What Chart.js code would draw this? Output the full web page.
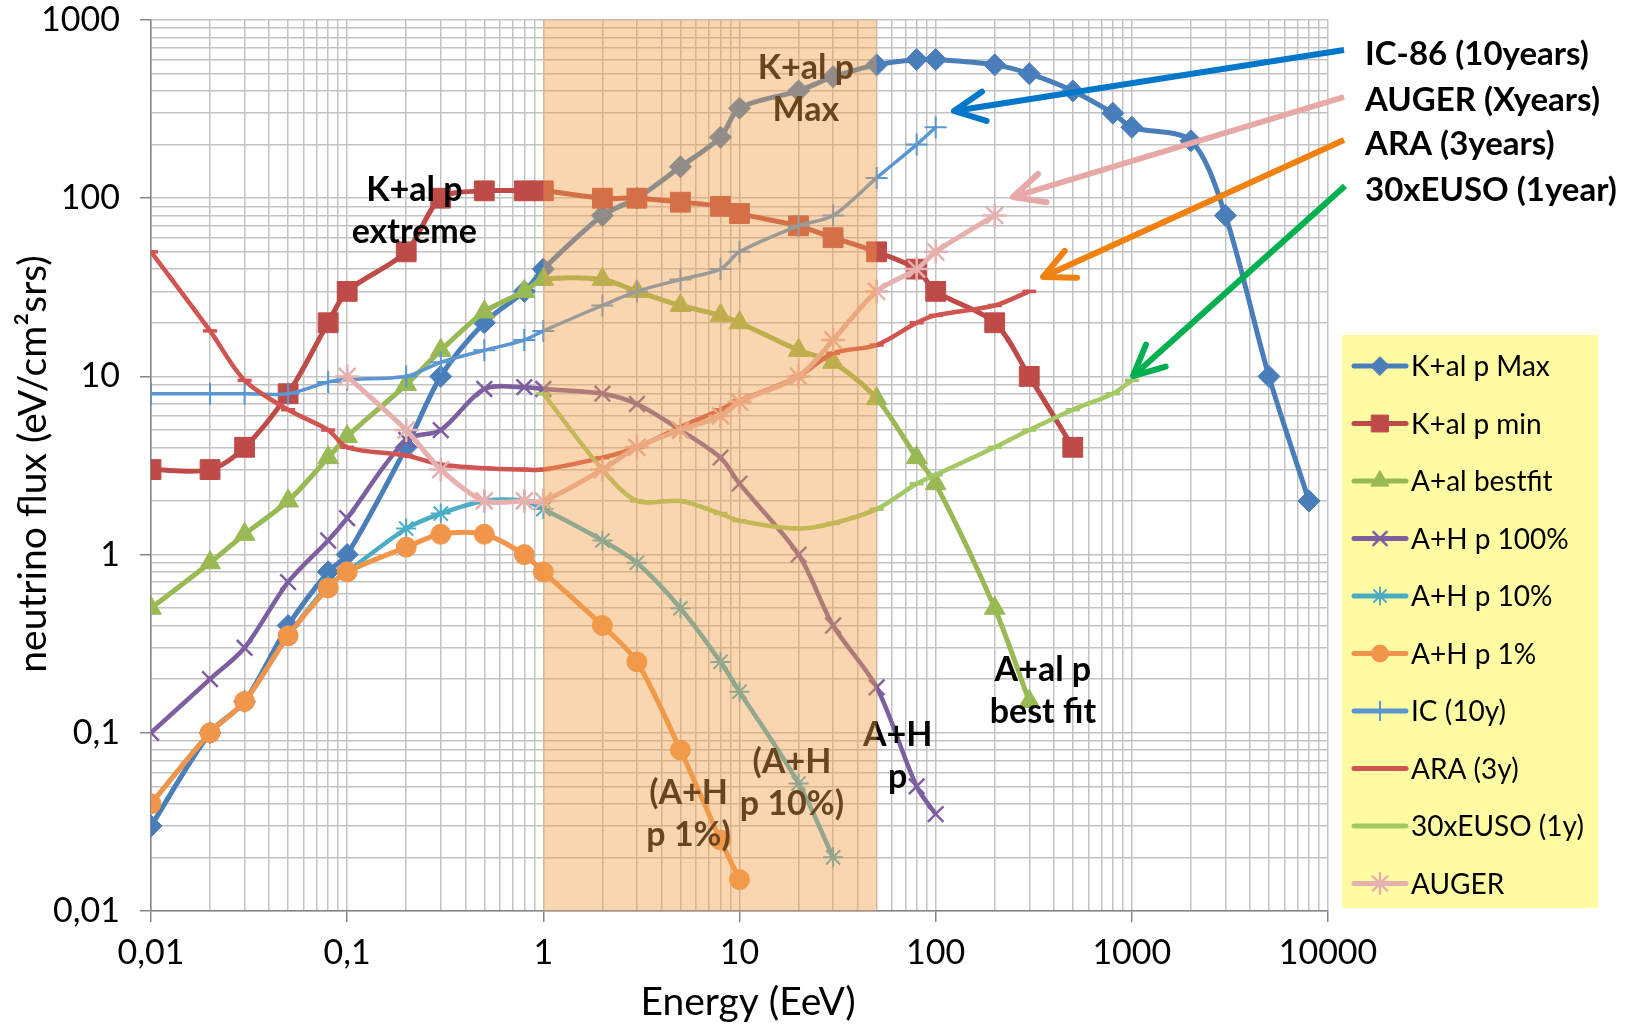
<!DOCTYPE html>
<html>
<head>
<meta charset="utf-8">
<script src="https://cdn.jsdelivr.net/npm/chart.js@4.4.1/dist/chart.umd.min.js"></script>
<style>
  html, body { margin: 0; padding: 0; background: #fff; }
  #wrap { width: 1634px; height: 1029px; }
</style>
</head>
<body>
<div id="wrap"><canvas id="fluxChart" width="1634" height="1029"></canvas></div>
<script>
// axis ranges and tick labels (comma decimals, as in the figure)
const xRange = [0.01, 10000];
const yRange = [0.01, 1000];
const xTickLabels = ["0,01", "0,1", "1", "10", "100", "1000", "10000"];
const yTickLabels = ["0,01", "0,1", "1", "10", "100", "1000"];

// energy (EeV) / flux (eV/cm2 srs)
const kalMaxE = [0.01, 0.02, 0.03, 0.05, 0.08, 0.1, 0.2, 0.3, 0.5, 0.8, 1, 2, 3, 5, 8, 10, 20, 30, 50, 80, 100, 200, 300, 500, 800, 1000, 2000, 3000, 5000, 8000];
const kalMaxF = [0.03, 0.1, 0.15, 0.4, 0.8, 1, 4, 10, 20, 30, 40, 80, 100, 150, 220, 320, 400, 480, 560, 600, 600, 560, 500, 400, 300, 250, 210, 80, 10, 2];

const kalMinE = [0.01, 0.02, 0.03, 0.05, 0.08, 0.1, 0.2, 0.3, 0.5, 0.8, 1, 2, 3, 5, 8, 10, 20, 30, 50, 80, 100, 200, 300, 500];
const kalMinF = [3, 3, 4, 8, 20, 30, 50, 100, 110, 110, 110, 100, 100, 95, 90, 82, 70, 60, 50, 40, 30, 20, 10, 4];

const aalBestE = [0.01, 0.02, 0.03, 0.05, 0.08, 0.1, 0.2, 0.3, 0.5, 0.8, 1, 2, 3, 5, 8, 10, 20, 30, 50, 80, 100, 200, 300];
const aalBestF = [0.5, 0.9, 1.3, 2, 3.5, 4.6, 9, 14, 23, 30, 35, 35, 30, 25, 22, 20, 14, 12, 7.5, 3.5, 2.5, 0.5, 0.15];

const ah100E = [0.01, 0.02, 0.03, 0.05, 0.08, 0.1, 0.2, 0.3, 0.5, 0.8, 1, 2, 3, 5, 8, 10, 20, 30, 50, 80, 100];
const ah100F = [0.1, 0.2, 0.3, 0.7, 1.2, 1.6, 4.4, 5, 8.5, 8.7, 8.5, 8, 7, 5, 3.5, 2.5, 1, 0.4, 0.18, 0.05, 0.035];

const ah10E = [0.01, 0.02, 0.03, 0.05, 0.08, 0.1, 0.2, 0.3, 0.5, 0.8, 1, 2, 3, 5, 8, 10, 20, 30];
const ah10F = [0.04, 0.1, 0.15, 0.35, 0.67, 0.8, 1.4, 1.7, 2, 2, 1.8, 1.2, 0.9, 0.5, 0.25, 0.17, 0.052, 0.02];

const ah1E = [0.01, 0.02, 0.03, 0.05, 0.08, 0.1, 0.2, 0.3, 0.5, 0.8, 1, 2, 3, 5, 8, 10];
const ah1F = [0.04, 0.1, 0.15, 0.35, 0.65, 0.8, 1.1, 1.3, 1.3, 1.0, 0.8, 0.4, 0.25, 0.08, 0.025, 0.015];

const icE = [0.01, 0.02, 0.03, 0.05, 0.08, 0.1, 0.2, 0.3, 0.5, 0.8, 1, 2, 3, 5, 8, 10, 20, 30, 50, 80, 100];
const icF = [8, 8, 8, 8, 9.3, 9.6, 10, 12, 14, 16, 18, 25, 30, 35, 40, 50, 70, 80, 130, 200, 250];

const araE = [0.01, 0.02, 0.03, 0.05, 0.08, 0.1, 0.2, 0.3, 0.5, 0.8, 1, 2, 3, 5, 8, 10, 20, 30, 50, 80, 100, 200, 300];
const araF = [50, 18, 9.5, 6.5, 5, 4, 3.6, 3.2, 3.05, 3, 3, 3.5, 4, 5.2, 6.5, 7.3, 10, 13.5, 15, 20, 22, 25, 30];

const eusoE = [1, 2, 3, 5, 8, 10, 20, 30, 50, 80, 100, 200, 300, 500, 800, 1000];
const eusoF = [8, 3, 2, 2, 1.7, 1.55, 1.4, 1.5, 1.8, 2.5, 2.8, 4, 5, 6.5, 8, 9.5];

const augerE = [0.1, 0.2, 0.3, 0.5, 0.8, 1, 2, 3, 5, 8, 10, 20, 30, 50, 80, 100, 200];
const augerF = [10, 5, 3, 2, 2, 2, 3, 4, 5, 6, 7.2, 10, 16, 30, 40, 50, 80];

// shaded energy band (EeV)
const bandFrom = 1;
const bandTo = 50;

const series = [
  { label: "K+al p Max", e: kalMaxE, f: kalMaxF, color: "#4A7EBB", style: "rectRot", r: 11, w: 5, bw: 1 },
  { label: "K+al p min", e: kalMinE, f: kalMinF, color: "#BE4B48", style: "rect", r: 14, w: 5, bw: 1 },
  { label: "A+al bestfit", e: aalBestE, f: aalBestF, color: "#98B954", style: "triangle", r: 12, w: 5, bw: 1 },
  { label: "A+H p 100%", e: ah100E, f: ah100F, color: "#7D5FA0", style: "crossRot", r: 11, w: 4.5, bw: 2.5 },
  { label: "A+H p 10%", e: ah10E, f: ah10F, color: "#4BACC6", style: "star", r: 10, w: 4.5, bw: 2 },
  { label: "A+H p 1%", e: ah1E, f: ah1F, color: "#F0954A", style: "circle", r: 10, w: 5, bw: 1 },
  { label: "IC (10y)", e: icE, f: icF, color: "#5A96D2", style: "cross", r: 11, w: 3.5, bw: 2 },
  { label: "ARA (3y)", e: araE, f: araF, color: "#D0544F", style: "line", r: 7, w: 4.5, bw: 3.5 },
  { label: "30xEUSO (1y)", e: eusoE, f: eusoF, color: "#A3C864", style: "line", r: 7, w: 4.5, bw: 3.5 },
  { label: "AUGER", e: augerE, f: augerF, color: "#E6B0AF", style: "star", r: 12, w: 5, bw: 2.5 },
];

const annotations = [
  { lines: ["K+al p", "extreme"], x: 0.22, y: 85 },
  { lines: ["K+al p", "Max"], x: 21.8, y: 410 },
  { lines: ["A+al p", "best fit"], x: 352, y: 0.172 },
  { lines: ["A+H", "p"], x: 64, y: 0.074 },
  { lines: ["(A+H", "p 10%)"], x: 18.5, y: 0.052 },
  { lines: ["(A+H", "p 1%)"], x: 5.5, y: 0.035 },
];

const callouts = [
  { text: "IC-86 (10years)", color: "#0077C8", from: [1344, 50], to: [954, 111], ty: 54 },
  { text: "AUGER (Xyears)", color: "#E6A9A8", from: [1344, 97], to: [1013, 197], ty: 100 },
  { text: "ARA (3years)", color: "#F08010", from: [1344, 140], to: [1043, 277], ty: 144 },
  { text: "30xEUSO (1year)", color: "#00B050", from: [1345, 186], to: [1133, 376], ty: 190 },
];

const FONT = "Lato";
Chart.defaults.font.family = FONT;

const isDecade = (v) => Math.abs(Math.log10(v) - Math.round(Math.log10(v))) < 1e-6;

const logTicks = ([lo, hi]) => {
  const out = [];
  for (let e = Math.round(Math.log10(lo)); e < Math.round(Math.log10(hi)); e++) {
    for (let m = 1; m <= 9; m++) out.push({ value: +(m * Math.pow(10, e)).toPrecision(3) });
  }
  out.push({ value: hi });
  return out;
};

const gridOpts = {
  color: "#C3C3C3",
  lineWidth: 1.5,
  tickLength: 11,
  tickWidth: 1.5,
  tickColor: (ctx) => (ctx.tick && isDecade(ctx.tick.value) ? "#868686" : "rgba(0,0,0,0)"),
};

const drawArrow = (ctx, [x1, y1], [x2, y2], color) => {
  const ang = Math.atan2(y1 - y2, x1 - x2);
  const len = 34, spread = 0.45;
  ctx.strokeStyle = color;
  ctx.lineWidth = 6;
  ctx.lineCap = "butt";
  ctx.beginPath();
  ctx.moveTo(x1, y1);
  ctx.lineTo(x2, y2);
  ctx.stroke();
  ctx.lineCap = "round";
  ctx.lineJoin = "round";
  ctx.beginPath();
  ctx.moveTo(x2 + len * Math.cos(ang - spread), y2 + len * Math.sin(ang - spread));
  ctx.lineTo(x2, y2);
  ctx.lineTo(x2 + len * Math.cos(ang + spread), y2 + len * Math.sin(ang + spread));
  ctx.stroke();
};

const extrasPlugin = {
  id: "extras",
  afterDatasetsDraw(chart) {
    const { ctx, chartArea: a, scales: { x, y } } = chart;
    ctx.save();
    // in-plot labels, drawn under the band so they pick up its tint
    ctx.fillStyle = "#000";
    ctx.font = "bold 34px " + FONT;
    ctx.textAlign = "center";
    ctx.textBaseline = "middle";
    annotations.forEach((an) => {
      const px = x.getPixelForValue(an.x);
      const py = y.getPixelForValue(an.y);
      an.lines.forEach((t, i) => ctx.fillText(t, px, py + (i - (an.lines.length - 1) / 2) * 42));
    });
    // shaded energy band on top of the curves
    const x1 = x.getPixelForValue(bandFrom);
    const x2 = x.getPixelForValue(bandTo);
    ctx.fillStyle = "rgba(240,160,70,0.43)";
    ctx.fillRect(x1, a.top, x2 - x1, a.bottom - a.top);
    ctx.restore();
  },
  afterDraw(chart) {
    const { ctx } = chart;
    ctx.save();

    // legend
    const lx = 1342, ly = 335, lw = 256, lh = 573, rowH = 57.5, firstY = 366;
    ctx.fillStyle = "#FFFBA3";
    ctx.fillRect(lx, ly, lw, lh);
    ctx.font = "28px " + FONT;
    ctx.textAlign = "left";
    ctx.textBaseline = "middle";
    series.forEach((s, i) => {
      const ry = firstY + i * rowH;
      ctx.strokeStyle = s.color;
      ctx.lineWidth = 5;
      ctx.lineCap = "round";
      ctx.beginPath();
      ctx.moveTo(1354, ry);
      ctx.lineTo(1406, ry);
      ctx.stroke();
      if (Chart.helpers && Chart.helpers.drawPoint && s.style !== "line") {
        ctx.fillStyle = s.color;
        ctx.lineWidth = s.bw;
        Chart.helpers.drawPoint(ctx, { pointStyle: s.style, radius: s.r * 0.85, rotation: 0, borderWidth: s.bw }, 1380, ry);
      }
      ctx.fillStyle = "#000";
      ctx.fillText(s.label, 1411, ry + 1);
    });

    // arrows and their labels
    callouts.forEach((c) => drawArrow(ctx, c.from, c.to, c.color));
    ctx.fillStyle = "#000";
    ctx.font = "bold 33px " + FONT;
    ctx.textAlign = "left";
    ctx.textBaseline = "middle";
    callouts.forEach((c) => ctx.fillText(c.text, 1365, c.ty));

    // axis titles
    ctx.font = "39px " + FONT;
    ctx.textAlign = "center";
    ctx.fillText("Energy (EeV)", 748, 1002);
    ctx.translate(33, 464);
    ctx.rotate(-Math.PI / 2);
    ctx.fillText("neutrino flux (eV/cm\u00B2srs)", 0, 0);
    ctx.restore();
  },
};

const datasets = series.map((s, i) => ({
  label: s.label,
  data: s.e.map((e, k) => ({ x: e, y: s.f[k] })),
  borderColor: s.color,
  backgroundColor: s.color,
  borderWidth: s.w,
  pointStyle: s.style,
  pointRadius: s.r,
  pointHoverRadius: s.r,
  pointBackgroundColor: s.color,
  pointBorderColor: s.color,
  pointBorderWidth: s.bw,
  tension: 0.3,
  fill: false,
  order: series.length - i,
}));

const fluxChart = new Chart(document.getElementById("fluxChart"), {
  type: "line",
  data: { datasets },
  options: {
    responsive: false,
    animation: false,
    devicePixelRatio: 1,
    layout: { padding: { top: 20, right: 306, left: 0, bottom: 0 } },
    plugins: {
      legend: { display: false },
      tooltip: { enabled: false },
    },
    scales: {
      x: {
        type: "logarithmic",
        min: xRange[0],
        max: xRange[1],
        afterBuildTicks: (scale) => { scale.ticks = logTicks(xRange); },
        afterFit: (scale) => { scale.height = 118; },
        grid: gridOpts,
        border: { color: "#868686", width: 1.5 },
        ticks: {
          autoSkip: false,
          maxRotation: 0,
          padding: 11,
          color: "#000",
          font: { size: 34 },
          callback: (v) => (isDecade(v) ? xTickLabels[Math.round(Math.log10(v)) + 2] : ""),
        },
      },
      y: {
        type: "logarithmic",
        min: yRange[0],
        max: yRange[1],
        afterBuildTicks: (scale) => { scale.ticks = logTicks(yRange); },
        afterFit: (scale) => {
          scale.width = 151;
          scale.paddingTop = 0;
          scale.paddingBottom = 0;
        },
        grid: gridOpts,
        border: { color: "#868686", width: 1.5 },
        ticks: {
          autoSkip: false,
          padding: 20,
          color: "#000",
          font: { size: 34 },
          callback: (v) => (isDecade(v) ? yTickLabels[Math.round(Math.log10(v)) + 2] : ""),
        },
      },
    },
  },
  plugins: [extrasPlugin],
});
</script>
</body>
</html>
